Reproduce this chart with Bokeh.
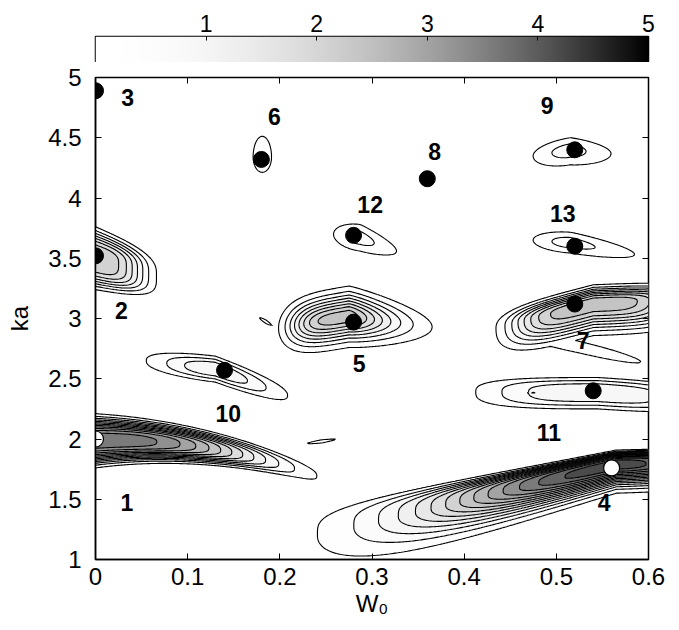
import numpy as np
from bokeh.plotting import figure
from bokeh.layouts import column
from bokeh.models import (ColumnDataSource, LinearAxis, FixedTicker,
                          LinearColorMapper)
from bokeh.core.properties import value
from bokeh.embed import file_html
from bokeh.resources import INLINE

# ---------------- data ----------------
X_TICKS = [0, 0.1, 0.2, 0.3, 0.4, 0.5, 0.6]
Y_TICKS = [1, 1.5, 2, 2.5, 3, 3.5, 4, 4.5, 5]
CB_TICKS = [1, 2, 3, 4, 5]
CONTOUR_LEVELS = [0.3, 0.6, 0.9, 1.2, 1.5, 1.8, 2.1, 2.4, 2.7, 3.0, 3.3, 3.6,
                  3.9, 4.2, 4.5, 4.8]

LABEL_TEXT = ["1", "2", "3", "4", "5", "6", "7", "8", "9", "10", "11", "12", "13"]
LABEL_X = [0.034, 0.028, 0.035, 0.552, 0.286, 0.194, 0.529, 0.368, 0.49,
           0.144, 0.492, 0.298, 0.507]
LABEL_Y = [1.47, 3.07, 4.83, 1.47, 2.63, 4.68, 2.82, 4.39, 4.77, 2.21, 2.05,
           3.95, 3.87]

BLACK_X = [0.0, 0.18, 0.36, 0.52, 0.28, 0.52, 0.0, 0.28, 0.52, 0.14, 0.54]
BLACK_Y = [4.89, 4.32, 4.16, 4.40, 3.69, 3.60, 3.52, 2.97, 3.12, 2.57, 2.40]
WHITE_X = [0.0, 0.56]
WHITE_Y = [2.0, 1.76]

# misfit-surface peaks
PEAK_NAME = ["1", "2", "4", "5", "7", "7t", "9", "10", "11", "11a", "12", "13",
             "6", "s5", "s1"]
PEAK_CX = [0.0, 0.0, 0.565, 0.275, 0.54, 0.525, 0.515, 0.13, 0.545, 0.475,
           0.287, 0.515, 0.181, 0.1845, 0.245]
PEAK_CY = [1.985, 3.52, 1.78, 3.02, 3.13, 2.76, 4.40, 2.58, 2.39, 2.385,
           3.67, 3.63, 4.34, 2.975, 1.98]
PEAK_A = [3.8, 2.35, 4.4, 2.6, 2.6, 0.6, 0.75, 1.18, 1.15, 1.26, 0.75, 0.75,
          0.45, 0.55, 0.36]
PEAK_WL = [0.2, 0.1, 0.211, 0.063, 0.087, 0.085, 0.042, 0.064, 0.12, 0.01,
           0.03, 0.042, 0.0157, 0.011, 0.065]
PEAK_WR = [0.176, 0.052, 0.15, 0.054, 0.09, 0.08, 0.047, 0.067, 0.1, 0.01,
           0.042, 0.074, 0.0157, 0.011, 0.065]
PEAK_PAL = [3, 3, 2.3, 4, 4, 2, 2, 2, 3, 2, 2, 2, 2, 1.3, 1.3]
PEAK_PAR = [3, 3, 2, 1.5, 4, 2, 1.5, 2, 3, 2, 1.5, 1.5, 2, 1.3, 1.3]
PEAK_SL = [0.0, 0.0, 1.8, 1.3, 2.0, -1.6, 1.25, -0.93, 0.0, 0.0, -1.0, -0.5,
           0.0, -4.6, 1.1]
PEAK_SR = [0.272, -2.4, 0.2, -1.0, 0.3, -1.8, -0.7, -2.8, -0.5, 0.0, -2.8,
           -1.4, 0.0, -4.6, 1.1]
PEAK_Q = [-6.19, 0, 0, 0, 0, 0, 0, 0, 0, 0, 0, 0, 0, 0, 0]
PEAK_HU = [0.165, 0.19, 0.1, 0.17, 0.11, 0.06, 0.105, 0.095, 0.109, 0.02,
           0.115, 0.09, 0.27, 0.022, 0.048]
PEAK_HD = [0.165, 0.234, 0.14, 0.177, 0.2, 0.055, 0.13, 0.095, 0.127, 0.02,
           0.115, 0.09, 0.2, 0.022, 0.048]
PEAK_PCU = [3, 3, 4, 2, 2.5, 2, 2, 2.5, 3, 2, 2, 2, 2, 1.3, 1.3]
PEAK_PCD = [3, 4, 2, 2, 2.5, 2, 2, 2.5, 3, 2, 2, 2, 2, 1.3, 1.3]
PEAK_GL = [0, 0, 2.5, 0, 0, 0, 0, 0, 0, 0, 0, 0, 0, 0, 0]
PEAK_GR = [-3.4, -4.0, 0, -2.0, 0, 0, 0, 0, 0, 0, -3.0, 0, 0, 0, 0]

# ---------------- surface ----------------
xg = np.linspace(0.0, 0.6, 361)
yg = np.linspace(1.0, 5.0, 481)
X, Y = np.meshgrid(xg, yg)
Z = np.zeros_like(X)
for i in range(len(PEAK_NAME)):
    u = X - PEAK_CX[i]
    left = u < 0
    s = np.where(left, PEAK_SL[i], PEAK_SR[i])
    ridge = PEAK_CY[i] + s * u + PEAK_Q[i] * np.where(left, 0.0, u * u)
    v = Y - ridge
    w = np.where(left, PEAK_WL[i], PEAK_WR[i])
    pa = np.where(left, PEAK_PAL[i], PEAK_PAR[i])
    fa = np.exp(-(np.abs(u) / w) ** pa)
    g = np.where(left, PEAK_GL[i], PEAK_GR[i])
    up = v > 0
    h = np.where(up, PEAK_HU[i], PEAK_HD[i]) * np.exp(g * np.abs(u))
    pc = np.where(up, PEAK_PCU[i], PEAK_PCD[i])
    fc = np.exp(-(np.abs(v) / h) ** pc)
    Z = np.maximum(Z, PEAK_A[i] * fa * fc)


def gray(val):
    g = int(round(255 * (1 - (min(max(val, 0), 5) / 5.0) ** 2)))
    return "#%02x%02x%02x" % (g, g, g)


PALETTE = [gray(5.0 * k / 255) for k in range(256)]
BAND_COLORS = [gray(l) for l in CONTOUR_LEVELS[:-1]]

FONT = "Liberation Sans, DejaVu Sans"

# ---------------- colorbar figure ----------------
cb = figure(width=679, height=62, x_range=(0, 5), y_range=(0, 1),
            toolbar_location=None, output_backend="svg",
            min_border_left=95, min_border_right=28, min_border_top=36,
            min_border_bottom=0, x_axis_location="above")
mapper = LinearColorMapper(palette=PALETTE, low=0, high=5)
cb.image(image=[np.linspace(0, 5, 512)[None, :]], x=0, y=0, dw=5, dh=1,
         color_mapper=mapper)
cb.yaxis.visible = False
cb.grid.visible = False
cb.outline_line_color = "black"
cb.outline_line_width = 1.5
ax = cb.xaxis[0]
ax.ticker = FixedTicker(ticks=CB_TICKS)
ax.major_tick_in = 4
ax.major_tick_out = 0
ax.minor_tick_line_color = None
ax.axis_line_color = None
ax.major_label_text_font = FONT
ax.major_label_text_font_size = "23px"
ax.major_label_text_color = "black"
ax.major_label_standoff = 5

# ---------------- main figure ----------------
p = figure(width=679, height=568, x_range=(0, 0.6), y_range=(1, 5),
           toolbar_location=None, output_backend="svg",
           min_border_left=92, min_border_right=31, min_border_top=15,
           min_border_bottom=71)
p.grid.visible = False
p.outline_line_color = "black"
p.outline_line_width = 1.5

p.contour(X, Y, Z, levels=CONTOUR_LEVELS, fill_color=BAND_COLORS,
          line_color="black", line_width=1.1)

p.scatter(BLACK_X, BLACK_Y, size=16, fill_color="black", line_color="black")
p.scatter(WHITE_X, WHITE_Y, size=16, fill_color="white", line_color="black",
          line_width=1.2)

src = ColumnDataSource(dict(x=LABEL_X, y=LABEL_Y, t=LABEL_TEXT))
p.text("x", "y", text="t", source=src, text_font=value(FONT),
       text_font_style="bold", text_font_size="23px", text_align="center",
       text_baseline="middle", text_color="black")

for axis, ticks in ((p.xaxis[0], X_TICKS), (p.yaxis[0], Y_TICKS)):
    axis.ticker = FixedTicker(ticks=ticks)
    axis.major_tick_in = 6
    axis.major_tick_out = 0
    axis.minor_tick_line_color = None
    axis.axis_line_width = 1.5
    axis.major_label_text_font = FONT
    axis.major_label_text_font_size = "24px"
    axis.major_label_text_color = "black"
    axis.axis_label_text_font = FONT
    axis.axis_label_text_font_size = "24px"
    axis.axis_label_text_font_style = "normal"
    axis.axis_label_text_color = "black"
p.xaxis[0].major_label_standoff = 8
p.yaxis[0].major_label_standoff = 14
p.xaxis[0].axis_label = "W\u2080"
p.xaxis[0].axis_label_standoff = 2
p.yaxis[0].axis_label = "ka"
p.yaxis[0].axis_label_standoff = 12

top = LinearAxis(ticker=FixedTicker(ticks=X_TICKS), major_tick_in=6,
                 major_tick_out=0, minor_tick_line_color=None,
                 axis_line_color=None, major_label_text_font_size="0px",
                 major_label_standoff=0)
right = LinearAxis(ticker=FixedTicker(ticks=Y_TICKS), major_tick_in=6,
                   major_tick_out=0, minor_tick_line_color=None,
                   axis_line_color=None, major_label_text_font_size="0px",
                   major_label_standoff=0)
p.add_layout(top, "above")
p.add_layout(right, "right")

layout = column(cb, p, spacing=0)
open("out.html", "w").write(file_html(layout, INLINE))
